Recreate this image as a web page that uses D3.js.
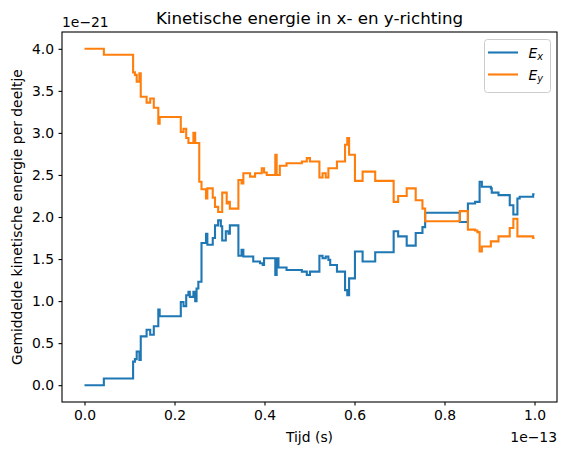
<!DOCTYPE html>
<html>
<head>
<meta charset="utf-8">
<script src="https://cdn.jsdelivr.net/npm/d3@7"></script>
<style>
  body { margin: 0; background: #fff; }
  svg { font-family: "DejaVu Sans", sans-serif; }
</style>
</head>
<body>
<div id="chart"></div>
<script>
// tijd in eenheden van 1e-13 s, energie in eenheden van 1e-21
var tijd = [0.000, 0.043, 0.108, 0.112, 0.116, 0.122, 0.125, 0.138, 0.146, 0.154,
    0.164, 0.167, 0.214, 0.220, 0.226, 0.231, 0.234, 0.242, 0.246, 0.249,
    0.253, 0.255, 0.260, 0.270, 0.273, 0.285, 0.290, 0.297, 0.303, 0.306,
    0.314, 0.316, 0.320, 0.323, 0.342, 0.349, 0.353, 0.368, 0.375, 0.379,
    0.390, 0.394, 0.396, 0.399, 0.405, 0.424, 0.427, 0.431, 0.434, 0.449,
    0.483, 0.494, 0.501, 0.522, 0.529, 0.536, 0.542, 0.546, 0.561, 0.579,
    0.584, 0.588, 0.601, 0.618, 0.646, 0.687, 0.697, 0.716, 0.736, 0.751,
    0.757, 0.834, 0.852, 0.868, 0.873, 0.878, 0.883, 0.903, 0.905, 0.920,
    0.945, 0.953, 0.962, 0.967, 0.997, 1.000];

var Ex = [0.00, 0.08, 0.28, 0.31, 0.40, 0.30, 0.58, 0.66, 0.60, 0.70,
    0.90, 0.82, 0.99, 0.94, 1.07, 1.11, 1.05, 1.11, 1.00, 1.15,
    1.23, 1.23, 1.69, 1.80, 1.67, 1.75, 1.90, 1.96, 1.89, 1.72,
    1.83, 1.83, 1.80, 1.90, 1.54, 1.61, 1.53, 1.53, 1.47, 1.47,
    1.45, 1.45, 1.43, 1.51, 1.51, 1.31, 1.51, 1.40, 1.40, 1.37,
    1.35, 1.31, 1.35, 1.54, 1.51, 1.53, 1.49, 1.43, 1.35, 1.13,
    1.07, 1.27, 1.59, 1.47, 1.58, 1.83, 1.77, 1.66, 1.81, 1.88,
    2.05, 1.94, 2.16, 2.18, 2.18, 2.42, 2.36, 2.34, 2.29, 2.26,
    2.14, 2.03, 2.22, 2.24, 2.27, 2.27];

var Ey = [4.00, 3.93, 3.72, 3.69, 3.61, 3.71, 3.43, 3.36, 3.41, 3.30,
    3.11, 3.19, 3.01, 3.05, 2.94, 2.88, 2.88, 3.00, 2.88, 2.88,
    2.88, 2.42, 2.33, 2.22, 2.34, 2.23, 2.12, 2.06, 2.06, 2.29,
    2.29, 2.16, 2.18, 2.10, 2.44, 2.40, 2.52, 2.48, 2.48, 2.52,
    2.52, 2.58, 2.58, 2.53, 2.50, 2.74, 2.50, 2.50, 2.61, 2.64,
    2.66, 2.70, 2.66, 2.47, 2.52, 2.47, 2.58, 2.58, 2.66, 2.86,
    2.94, 2.74, 2.43, 2.54, 2.43, 2.18, 2.25, 2.34, 2.20, 2.10,
    1.95, 2.07, 1.85, 1.84, 1.82, 1.59, 1.65, 1.71, 1.71, 1.77,
    1.87, 1.98, 1.77, 1.77, 1.75, 1.75];

var xTicks = [0.0, 0.2, 0.4, 0.6, 0.8, 1.0];
var yTicks = [0.0, 0.5, 1.0, 1.5, 2.0, 2.5, 3.0, 3.5, 4.0];

var kleuren = ["#1f77b4", "#ff7f0e"];

var margin = { top: 32, right: 10, bottom: 53, left: 62 },
    width = 567 - margin.left - margin.right,
    height = 455 - margin.top - margin.bottom;

var svg = d3.select("#chart").append("svg")
    .attr("width", 567)
    .attr("height", 455);

var g = svg.append("g")
    .attr("transform", "translate(" + margin.left + "," + margin.top + ")");

var x = d3.scaleLinear().domain([-0.05, 1.05]).range([0, width]);
var y = d3.scaleLinear().domain([-0.2, 4.2]).range([height, 0]);

var data = tijd.map(function (t, i) { return { t: t, ex: Ex[i], ey: Ey[i] }; });

var lineX = d3.line()
    .curve(d3.curveStepAfter)
    .x(function (d) { return x(d.t); })
    .y(function (d) { return y(d.ex); });

var lineY = d3.line()
    .curve(d3.curveStepAfter)
    .x(function (d) { return x(d.t); })
    .y(function (d) { return y(d.ey); });

g.append("path").datum(data)
    .attr("fill", "none").attr("stroke", kleuren[0]).attr("stroke-width", 2.1)
    .attr("d", lineX);

g.append("path").datum(data)
    .attr("fill", "none").attr("stroke", kleuren[1]).attr("stroke-width", 2.1)
    .attr("d", lineY);

// assen
var xAxis = g.append("g")
    .attr("transform", "translate(0," + height + ")")
    .call(d3.axisBottom(x).tickValues(xTicks).tickFormat(d3.format(".1f")).tickSizeInner(3.5).tickSizeOuter(0).tickPadding(4.5));

var yAxis = g.append("g")
    .call(d3.axisLeft(y).tickValues(yTicks).tickFormat(d3.format(".1f")).tickSizeInner(3.5).tickSizeOuter(0).tickPadding(4.5));

[xAxis, yAxis].forEach(function (a) {
    a.select(".domain").remove();
    a.selectAll("text").attr("font-size", 13.9).attr("fill", "#000")
        .attr("font-family", "DejaVu Sans");
    a.selectAll("line").attr("stroke", "#000").attr("stroke-width", 1.1);
});

g.append("rect")
    .attr("width", width).attr("height", height)
    .attr("fill", "none").attr("stroke", "#000").attr("stroke-width", 1.1);

// teksten
svg.append("text")
    .attr("x", margin.left + width / 2).attr("y", 24)
    .attr("text-anchor", "middle").attr("font-size", 16.7)
    .text("Kinetische energie in x- en y-richting");

svg.append("text")
    .attr("x", margin.left + width / 2).attr("y", 442)
    .attr("text-anchor", "middle").attr("font-size", 13.9)
    .text("Tijd (s)");

svg.append("text")
    .attr("transform", "translate(22," + (margin.top + height / 2) + ") rotate(-90)")
    .attr("text-anchor", "middle").attr("font-size", 13.9)
    .text("Gemiddelde kinetische energie per deeltje");

svg.append("text")
    .attr("x", margin.left).attr("y", 27)
    .attr("font-size", 13.9)
    .text("1e\u221221");

svg.append("text")
    .attr("x", margin.left + width).attr("y", 442)
    .attr("text-anchor", "end").attr("font-size", 13.9)
    .text("1e\u221213");

// legenda
var legend = svg.append("g").attr("transform", "translate(484.5,39.5)");
legend.append("rect")
    .attr("width", 66).attr("height", 53).attr("rx", 3)
    .attr("fill", "#fff").attr("fill-opacity", 0.8)
    .attr("stroke", "#ccc").attr("stroke-width", 1);

var namen = [["E", "x"], ["E", "y"]];
namen.forEach(function (n, i) {
    var yy = 13 + i * 22;
    legend.append("line")
        .attr("x1", 3.5).attr("x2", 33.5).attr("y1", yy).attr("y2", yy)
        .attr("stroke", kleuren[i]).attr("stroke-width", 2.1);
    var txt = legend.append("text")
        .attr("x", 44).attr("y", yy + 5)
        .attr("font-size", 13.9).attr("font-style", "italic");
    txt.append("tspan").text(n[0]);
    txt.append("tspan").attr("font-size", 9.7).attr("dy", 2.5).text(n[1]);
});
</script>
</body>
</html>
